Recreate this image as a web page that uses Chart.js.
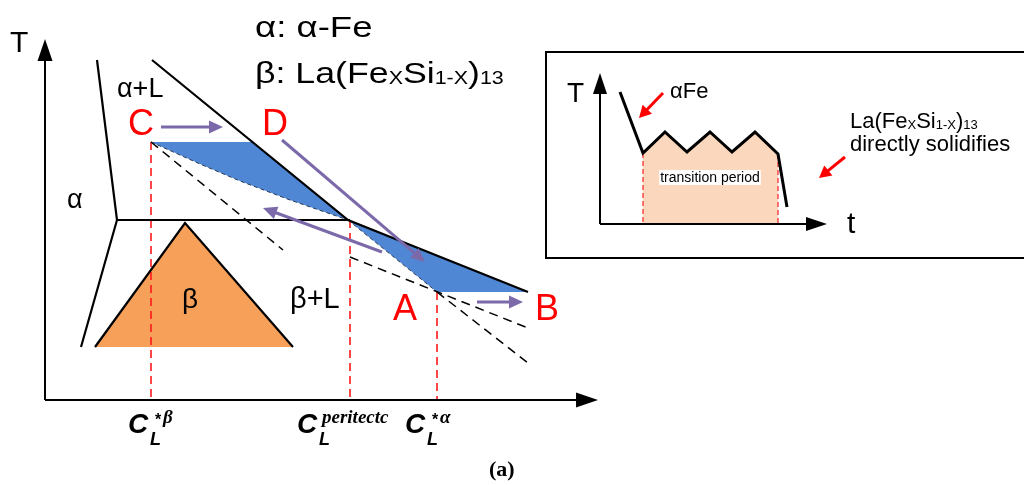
<!DOCTYPE html>
<html>
<head>
<meta charset="utf-8">
<script src="https://cdn.jsdelivr.net/npm/chart.js@4/dist/chart.umd.min.js"></script>
<style>
  html, body { margin: 0; padding: 0; background: #ffffff; }
  #wrap { width: 1024px; height: 485px; }
</style>
</head>
<body>
<div id="wrap"><canvas id="c" width="1024" height="485"></canvas></div>
<script>
// ---- Data (diagram units: x = composition, y = temperature) ----
const alphaBoundary  = [[52,340],[72,180],[36,53]];
const peritecticLine = [[72,180],[305,180]];
const liquidusLine   = [[107,340],[303,180],[483,108]];
const blueUpper      = [[106,258],[207,258],[303,180],[245,200],[195,219],[155,236],[106,258]];
const blueLower      = [[303,180],[483,108],[392,108],[303,180]];
const blueCurveEdge  = [[106,258],[155,236],[195,219],[245,200],[303,180]];
const blueLowerEdge  = [[303,180],[392,108]];
const betaTriangle   = [[50,53],[140,177],[248,53],[50,53]];
const betaEdges      = [[50,53],[140,177],[248,53]];
const dashFromC      = [[106,258],[238,150]];
const dashA1         = [[305,143],[483,72]];
const dashA2         = [[392,108],[483,37]];
const redVerticals   = [[[106,258],[106,0]], [[305,180],[305,0]], [[392,108],[392,0]]];
const mainAxes       = [[[0,0],[0,361]], [[0,0],[553,0]]];
const purpleArrows   = [[[116,273],[178,273]], [[237,260],[380,138]], [[337,148],[218,192]], [[432,98],[478,98]]];

// inset (cooling curve)
const insetBox       = [[982,348],[501,348],[501,142],[982,142]];
const insetAxes      = [[[555,176],[555,327]], [[555,176],[782,176]]];
const coolingCurve   = [[575,308],[598,247],[620,268],[642,248],[665,268],[687,248],[710,268],[733,246],[742,193]];
const transitionArea = [[598,247],[620,268],[642,248],[665,268],[687,248],[710,268],[733,246],[733,176],[598,176],[598,247]];
const insetRedDash   = [[[598,247],[598,176]], [[733,246],[733,176]]];
const redArrows      = [[[618,307],[594,282]], [[800,243],[774,222]]];

// labels
const plainLabels = [
  {t:'T',   x:-35, y:348, size:30, color:'#000'},
  {t:'α+L', x:72,  y:303, size:27, color:'#000'},
  {t:'α',   x:22,  y:192, size:27, color:'#000'},
  {t:'β+L', x:245, y:92,  size:29, color:'#000'},
  {t:'C',   x:83,  y:265, size:36, color:'#ff0000'},
  {t:'D',   x:217, y:265, size:36, color:'#ff0000'},
  {t:'A',   x:348, y:80,  size:36, color:'#ff0000'},
  {t:'B',   x:490, y:80,  size:36, color:'#ff0000'},
  {t:'α: α-Fe', x:210, y:363, size:30, color:'#000', sx:1.22},
  {t:'T',   x:522, y:298, size:28, color:'#000'},
  {t:'t',   x:802, y:167, size:30, color:'#000'},
  {t:'αFe', x:625, y:302, size:22, color:'#000'},
  {t:'directly solidifies', x:805, y:249, size:22, color:'#000'}
];
const richLabels = [
  {x:210, y:317, size:30, sub:18, sx:1.19, parts:[['β: La(Fe',0],['X',1],['Si',0],['1-X',1],[')',0],['13',1]]},
  {x:805, y:272, size:22, sub:13, sx:1, parts:[['La(Fe',0],['X',1],['Si',0],['1-X',1],[')',0],['13',1]]}
];
const centerLabels = [
  {t:'β', x:145, y:100, size:28},
];
const boxedLabel = {t:'transition period', x:665, y:222, size:14};
const concLabels = [
  {x:83,  y:-33, sup:'*β'},
  {x:252, y:-33, sup:'peritectc'},
  {x:360, y:-33, sup:'*α'}
];
const captionLabel = {t:'(a)', x:444, y:-76, size:22};

// ---- helpers ----
const pts = a => a.map(p => ({x:p[0], y:p[1]}));
const SANS = "'Liberation Sans', Arial, sans-serif";
const SERIF = "'Liberation Serif', 'Times New Roman', serif";

function lineDS(arr, color, width, dash, order) {
  return {data: pts(arr), showLine:true, borderColor:color, borderWidth:width,
          borderDash: dash || [], fill:false, pointRadius:0, order: order ?? 1,
          borderJoinStyle:'miter', borderCapStyle:'butt', tension:0};
}
function fillDS(arr, color, order) {
  return {data: pts(arr), showLine:true, borderColor:'rgba(0,0,0,0)', borderWidth:0,
          backgroundColor:color, fill:'shape', pointRadius:0, order: order ?? 5, tension:0};
}

const datasets = [];
datasets.push(fillDS(transitionArea, '#fbd8bd', 9));
datasets.push(fillDS(betaTriangle, '#f7a05a', 9));
datasets.push(fillDS(blueUpper, '#4f87d5', 9));
datasets.push(fillDS(blueLower, '#4f87d5', 9));
datasets.push(lineDS(blueCurveEdge, '#2a3a55', 1, [4,3], 4));
datasets.push(lineDS(blueLowerEdge, '#2a3a55', 1, [4,3], 4));
datasets.push(lineDS(dashFromC, '#000', 1.5, [9,6], 3));
datasets.push(lineDS(dashA1, '#000', 1.5, [9,6], 3));
datasets.push(lineDS(dashA2, '#000', 1.5, [9,6], 3));
redVerticals.forEach(s => datasets.push(lineDS(s, '#ff1a1a', 1.6, [8,5], 3)));
insetRedDash.forEach(s => datasets.push(lineDS(s, '#ff2020', 1.2, [5,3], 3)));
datasets.push(lineDS(alphaBoundary, '#000', 2.2, null, 2));
datasets.push(lineDS(peritecticLine, '#000', 2.2, null, 2));
datasets.push(lineDS(liquidusLine, '#000', 2.2, null, 2));
datasets.push(lineDS(betaEdges, '#000', 2.2, null, 2));
datasets.push(lineDS(insetBox, '#000', 2, null, 2));
datasets.push(lineDS(coolingCurve, '#000', 3, null, 2));

const diagramPlugin = {
  id: 'diagram',
  afterDatasetsDraw(chart) {
    const ctx = chart.ctx, xs = chart.scales.x, ys = chart.scales.y;
    const P = p => [xs.getPixelForValue(p[0]), ys.getPixelForValue(p[1])];
    function arrow(seg, color, width, headLen, headHalf) {
      const [x0,y0] = P(seg[0]), [x1,y1] = P(seg[1]);
      const ang = Math.atan2(y1-y0, x1-x0);
      const bx = x1 - headLen*Math.cos(ang), by = y1 - headLen*Math.sin(ang);
      ctx.save();
      ctx.strokeStyle = color; ctx.fillStyle = color; ctx.lineWidth = width; ctx.lineCap = 'butt';
      ctx.beginPath(); ctx.moveTo(x0,y0); ctx.lineTo(bx + 1*Math.cos(ang), by + 1*Math.sin(ang)); ctx.stroke();
      ctx.beginPath();
      ctx.moveTo(x1,y1);
      ctx.lineTo(bx + headHalf*Math.sin(ang), by - headHalf*Math.cos(ang));
      ctx.lineTo(bx - headHalf*Math.sin(ang), by + headHalf*Math.cos(ang));
      ctx.closePath(); ctx.fill();
      ctx.restore();
    }
    mainAxes.forEach(s => arrow(s, '#000', 2, 22, 7.5));
    insetAxes.forEach(s => arrow(s, '#000', 2, 21, 7));
    purpleArrows.forEach(s => arrow(s, '#7b69aa', 3, 14, 6.5));
    redArrows.forEach(s => arrow(s, '#ff0000', 3, 12, 6.5));

    ctx.save();
    ctx.textBaseline = 'alphabetic'; ctx.textAlign = 'left';
    plainLabels.forEach(l => {
      const [px,py] = P([l.x,l.y]);
      ctx.save();
      ctx.translate(px, py); ctx.scale(l.sx || 1, 1);
      ctx.font = l.size + 'px ' + SANS; ctx.fillStyle = l.color;
      ctx.fillText(l.t, 0, 0);
      ctx.restore();
    });
    richLabels.forEach(l => {
      const [px0,py] = P([l.x,l.y]);
      ctx.save();
      ctx.translate(px0, py); ctx.scale(l.sx || 1, 1);
      ctx.fillStyle = '#000';
      let px = 0;
      l.parts.forEach(([t,isSub]) => {
        ctx.font = (isSub ? l.sub : l.size) + 'px ' + SANS;
        ctx.fillText(t, px, isSub ? 1 : 0);
        px += ctx.measureText(t).width;
      });
      ctx.restore();
    });
    ctx.textAlign = 'center'; ctx.textBaseline = 'middle';
    centerLabels.forEach(l => {
      const [px,py] = P([l.x,l.y]);
      ctx.font = l.size + 'px ' + SANS; ctx.fillStyle = '#000';
      ctx.fillText(l.t, px, py);
    });
    {
      const [px,py] = P([boxedLabel.x, boxedLabel.y]);
      ctx.font = boxedLabel.size + 'px ' + SANS;
      const w = ctx.measureText(boxedLabel.t).width;
      ctx.fillStyle = '#fff';
      ctx.fillRect(px - w/2 - 1, py - 8, w + 2, 15);
      ctx.fillStyle = '#000';
      ctx.fillText(boxedLabel.t, px, py);
    }
    ctx.textAlign = 'left'; ctx.textBaseline = 'alphabetic';
    concLabels.forEach(l => {
      const [px,py] = P([l.x,l.y]);
      ctx.fillStyle = '#000';
      ctx.font = 'bold italic 28px ' + SANS;
      ctx.fillText('C', px, py);
      ctx.font = 'bold italic 18px ' + SANS;
      ctx.fillText('L', px + 22, py + 12);
      if (l.sup.startsWith('*')) {
        ctx.font = 'bold 16px ' + SANS;
        ctx.fillText('*', px + 27, py - 8);
        ctx.font = 'bold italic 19px ' + SERIF;
        ctx.fillText(l.sup.slice(1), px + 35, py - 10);
      } else {
        ctx.font = 'bold italic 19px ' + SERIF;
        ctx.fillText(l.sup, px + 25, py - 10);
      }
    });
    {
      const [px,py] = P([captionLabel.x, captionLabel.y]);
      ctx.font = 'bold ' + captionLabel.size + 'px ' + SERIF; ctx.fillStyle = '#000';
      ctx.fillText(captionLabel.t, px, py);
    }
    ctx.restore();
  }
};

new Chart(document.getElementById('c'), {
  type: 'scatter',
  data: { datasets },
  options: {
    responsive: false, animation: false, events: [],
    layout: { padding: 0 },
    plugins: { legend: {display:false}, tooltip: {enabled:false}, title:{display:false} },
    scales: {
      x: { type:'linear', min:-45, max:979, display:false },
      y: { type:'linear', min:-85, max:400, display:false }
    }
  },
  plugins: [diagramPlugin]
});
</script>
</body>
</html>
